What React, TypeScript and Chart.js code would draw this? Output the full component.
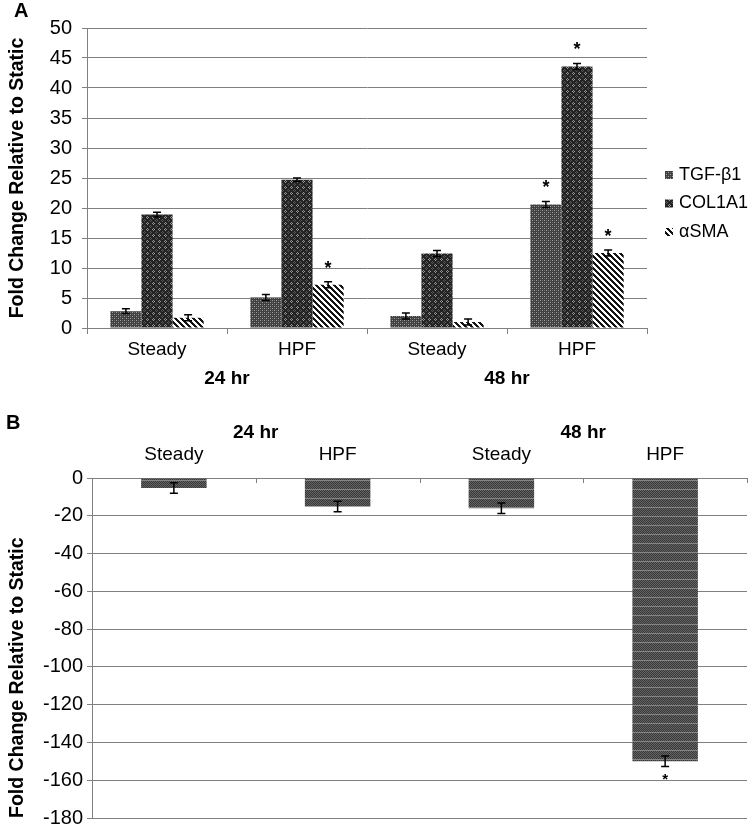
import React, { useEffect, useRef } from 'react';
import { Chart, registerables } from 'chart.js';
Chart.register(...registerables);

// ---------- DATA ----------
const conditionLabels = ['Steady', 'HPF', 'Steady', 'HPF'];
const timeLabels = ['24 hr', '48 hr'];
const seriesNames = ['TGF-β1', 'COL1A1', 'αSMA'];

const tgfValues = [2.8, 5.1, 2.0, 20.6];
const tgfErrors = [0.4, 0.5, 0.5, 0.5];
const tgfSig = [false, false, false, true];

const colValues = [18.9, 24.7, 12.4, 43.6];
const colErrors = [0.4, 0.3, 0.5, 0.5];
const colSig = [false, false, false, true];

const smaValues = [1.7, 7.2, 1.0, 12.5];
const smaErrors = [0.5, 0.5, 0.5, 0.5];
const smaSig = [false, true, false, true];

const panelBValues = [-5.3, -15.1, -16.0, -150.0];
const panelBErrors = [2.8, 2.8, 2.8, 2.8];
const panelBSig = [false, false, false, true];

const yTitle = 'Fold Change Relative to Static';

// ---------- STYLE ----------
const FONT = "'Liberation Sans', Arial, sans-serif";
const GRID = '#808080';

function makePattern(kind: string): CanvasPattern | string {
  const c = document.createElement('canvas');
  const ctx = c.getContext('2d');
  if (!ctx) return '#555';
  if (kind === 'tgf') {
    c.width = 4; c.height = 4;
    ctx.fillStyle = '#404040'; ctx.fillRect(0, 0, 4, 4);
    ctx.fillStyle = '#a0a0a0'; ctx.fillRect(0, 0, 1, 1); ctx.fillRect(2, 2, 1, 1);
    ctx.fillStyle = '#6a6a6a'; ctx.fillRect(2, 0, 1, 1); ctx.fillRect(0, 2, 1, 1);
  } else if (kind === 'col') {
    c.width = 6; c.height = 6;
    ctx.fillStyle = '#242424'; ctx.fillRect(0, 0, 6, 6);
    ctx.fillStyle = '#969696';
    ctx.fillRect(3, 0, 1, 1); ctx.fillRect(2, 1, 1, 1); ctx.fillRect(4, 1, 1, 1); ctx.fillRect(3, 2, 1, 1);
    ctx.fillStyle = '#565656';
    ctx.fillRect(0, 3, 1, 1); ctx.fillRect(5, 4, 1, 1); ctx.fillRect(1, 4, 1, 1); ctx.fillRect(0, 5, 1, 1);
  } else if (kind === 'sma') {
    c.width = 6; c.height = 6;
    const img = ctx.createImageData(6, 6);
    for (let y = 0; y < 6; y++) {
      for (let x = 0; x < 6; x++) {
        const d = (((x - y) % 6) + 6) % 6;
        const v = d < 3 ? 20 : 255;
        const i = (y * 6 + x) * 4;
        img.data[i] = v; img.data[i + 1] = v; img.data[i + 2] = v; img.data[i + 3] = 255;
      }
    }
    ctx.putImageData(img, 0, 0);
  } else {
    c.width = 4; c.height = 9;
    ctx.fillStyle = '#383838'; ctx.fillRect(0, 0, 4, 9);
    ctx.fillStyle = '#646464';
    for (let y = 0; y < 8; y++) for (let x = 0; x < 4; x++) if ((x + y) % 2 === 0) ctx.fillRect(x, y, 1, 1);
    ctx.fillStyle = '#858585'; ctx.fillRect(0, 8, 4, 1);
  }
  return ctx.createPattern(c, 'repeat') || '#555';
}

const errorBarPlugin = {
  id: 'errorBars',
  afterDatasetsDraw(chart: any) {
    const ctx = chart.ctx;
    const yScale = chart.scales.y;
    chart.data.datasets.forEach((ds: any, di: number) => {
      const meta = chart.getDatasetMeta(di);
      meta.data.forEach((el: any, j: number) => {
        const v = ds.data[j];
        const e = ds.errors[j];
        const yHi = yScale.getPixelForValue(v + e);
        const yLo = yScale.getPixelForValue(v - e);
        const x = el.x;
        ctx.save();
        ctx.strokeStyle = '#000';
        ctx.lineWidth = 1.5;
        ctx.beginPath();
        ctx.moveTo(x, yHi); ctx.lineTo(x, yLo);
        ctx.moveTo(x - 4, yHi); ctx.lineTo(x + 4, yHi);
        ctx.moveTo(x - 4, yLo); ctx.lineTo(x + 4, yLo);
        ctx.stroke();
        if (ds.sig[j]) {
          ctx.fillStyle = '#000';
          ctx.textAlign = 'center';
          ctx.textBaseline = 'alphabetic';
          if (v >= 0) {
            ctx.font = `bold 18px ${FONT}`;
            ctx.fillText('*', x, yHi - 8);
          } else {
            ctx.font = `bold 15px ${FONT}`;
            ctx.fillText('*', x, yLo + 17);
          }
        }
        ctx.restore();
      });
    });
  },
};

const legendPlugin = {
  id: 'customLegend',
  afterDraw(chart: any) {
    if (!chart.options.plugins.customLegend?.enabled) return;
    const ctx = chart.ctx;
    ctx.save();
    chart.data.datasets.forEach((ds: any, i: number) => {
      const y = 175 + 28.5 * i;
      ctx.fillStyle = ds.backgroundColor;
      ctx.fillRect(665, y - 4, 8, 8);
      ctx.fillStyle = '#000';
      ctx.font = `18px ${FONT}`;
      ctx.textAlign = 'left';
      ctx.textBaseline = 'middle';
      ctx.fillText(ds.label, 679, y);
    });
    ctx.restore();
  },
};

const innerTicksPlugin = {
  id: 'innerTicks',
  afterDraw(chart: any) {
    if (!chart.options.plugins.innerTicks?.enabled) return;
    const ctx = chart.ctx;
    const xs = chart.scales.x;
    const n = xs.ticks.length;
    ctx.save();
    ctx.strokeStyle = GRID;
    ctx.lineWidth = 1;
    ctx.beginPath();
    for (let i = 0; i <= n; i++) {
      const x = Math.round(xs.getPixelForValue(i - 0.5)) + 0.5;
      ctx.moveTo(x, chart.chartArea.top);
      ctx.lineTo(x, chart.chartArea.top + 5);
    }
    ctx.stroke();
    ctx.restore();
  },
};

export default function App() {
  const refA = useRef<HTMLCanvasElement>(null);
  const refB = useRef<HTMLCanvasElement>(null);

  useEffect(() => {
    const tick = { family: FONT, size: 19 };
    const yTick = { family: FONT, size: 20 };
    const bold = { family: FONT, size: 19, weight: 'bold' as const };
    const titleFont = { family: FONT, size: 19.5, weight: 'bold' as const };

    const chartA = new Chart(refA.current!, {
      type: 'bar',
      data: {
        labels: conditionLabels,
        datasets: [
          { label: seriesNames[0], data: tgfValues, errors: tgfErrors, sig: tgfSig, backgroundColor: makePattern('tgf'), xAxisID: 'x', yAxisID: 'y' } as any,
          { label: seriesNames[1], data: colValues, errors: colErrors, sig: colSig, backgroundColor: makePattern('col'), xAxisID: 'x', yAxisID: 'y' } as any,
          { label: seriesNames[2], data: smaValues, errors: smaErrors, sig: smaSig, backgroundColor: makePattern('sma'), xAxisID: 'x', yAxisID: 'y' } as any,
        ],
      },
      options: {
        responsive: false,
        animation: false,
        devicePixelRatio: 1,
        datasets: { bar: { categoryPercentage: 3 / 4.5, barPercentage: 1 } },
        layout: { padding: { top: 28, right: 103, bottom: 12, left: 0 } },
        plugins: { legend: { display: false }, tooltip: { enabled: false }, customLegend: { enabled: true } } as any,
        scales: {
          x: {
            type: 'category',
            offset: true,
            grid: { display: true, drawOnChartArea: false, drawTicks: true, tickLength: 6, color: GRID, offset: true },
            border: { display: true, color: GRID },
            ticks: { font: tick, color: '#000', padding: 4, maxRotation: 0 },
            afterFit: (s: any) => { s.height = 32; },
          },
          x2: {
            type: 'category',
            labels: timeLabels,
            offset: true,
            position: 'bottom',
            weight: 1,
            grid: { display: false },
            border: { display: false },
            ticks: { font: bold, color: '#000', padding: -1, maxRotation: 0 },
            afterFit: (s: any) => { s.height = 28; },
          } as any,
          y: {
            min: 0,
            max: 50,
            ticks: { stepSize: 5, font: yTick, color: '#000', padding: 10 },
            grid: { color: GRID, tickLength: 5 },
            border: { color: GRID },
            title: { display: true, text: yTitle, font: titleFont, color: '#000', padding: { top: 6, bottom: 0 } },
            afterFit: (s: any) => { s.width = 87; },
          },
        },
      },
      plugins: [errorBarPlugin, legendPlugin],
    });

    const chartB = new Chart(refB.current!, {
      type: 'bar',
      data: {
        labels: conditionLabels,
        datasets: [
          { label: 'Panel B', data: panelBValues, errors: panelBErrors, sig: panelBSig, backgroundColor: makePattern('b'), xAxisID: 'x', yAxisID: 'y' } as any,
        ],
      },
      options: {
        responsive: false,
        animation: false,
        devicePixelRatio: 1,
        datasets: { bar: { categoryPercentage: 0.4, barPercentage: 1 } },
        layout: { padding: { top: 18, right: 3, bottom: 12, left: 0 } },
        plugins: { legend: { display: false }, tooltip: { enabled: false }, innerTicks: { enabled: true } } as any,
        scales: {
          x: {
            type: 'category',
            position: 'top',
            offset: true,
            grid: { display: false },
            border: { display: true, color: GRID },
            ticks: { font: tick, color: '#000', padding: 4, maxRotation: 0 },
            afterFit: (s: any) => { s.height = 34; },
          },
          x2: {
            type: 'category',
            labels: timeLabels,
            offset: true,
            position: 'top',
            weight: 1,
            grid: { display: false },
            border: { display: false },
            ticks: { font: bold, color: '#000', padding: -8, maxRotation: 0 },
            afterFit: (s: any) => { s.height = 26; },
          } as any,
          y: {
            min: -180,
            max: 0,
            ticks: { stepSize: 20, font: yTick, color: '#000', padding: 4 },
            grid: { color: GRID, tickLength: 5 },
            border: { color: GRID },
            title: { display: true, text: yTitle, font: titleFont, color: '#000', align: 'start', padding: { top: 6, bottom: 0 } },
            afterFit: (s: any) => { s.width = 92; },
          },
        },
      },
      plugins: [errorBarPlugin, innerTicksPlugin],
    });

    return () => { chartA.destroy(); chartB.destroy(); };
  }, []);

  const panelLetter: React.CSSProperties = {
    position: 'absolute', fontFamily: FONT, fontWeight: 'bold', fontSize: 20, lineHeight: '20px', color: '#000',
  };

  return (
    <div style={{ position: 'absolute', left: 0, top: 0, width: 750, height: 824, background: '#fff', overflow: 'hidden' }}>
      <canvas ref={refA} width={750} height={400} style={{ position: 'absolute', left: 0, top: 0, width: 750, height: 400 }} />
      <canvas ref={refB} width={750} height={434} style={{ position: 'absolute', left: 0, top: 400, width: 750, height: 434 }} />
      <div style={{ ...panelLetter, left: 14, top: 0 }}>A</div>
      <div style={{ ...panelLetter, left: 6, top: 412 }}>B</div>
    </div>
  );
}
